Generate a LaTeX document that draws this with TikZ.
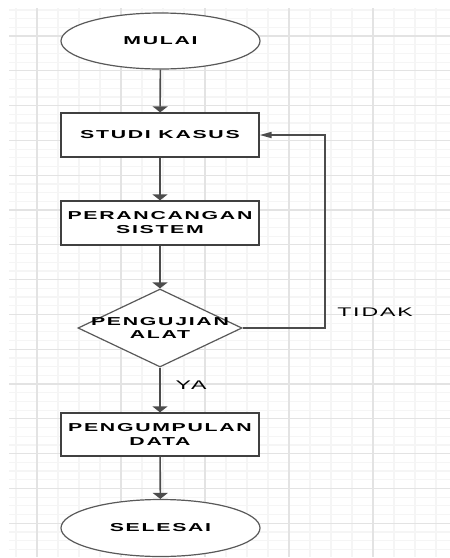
\documentclass[tikz,border=0pt]{standalone}
\usepackage{fontspec}
\setmainfont{Liberation Sans}
\usepackage{graphicx}
\usepackage{tikz}
\usetikzlibrary{arrows.meta,shapes.geometric}
\definecolor{gridmajor}{rgb}{0.89,0.89,0.89}
\definecolor{gridminor}{rgb}{0.96,0.96,0.96}
\definecolor{garis}{rgb}{0.30,0.30,0.30}
\newcommand{\lebar}[1]{\scalebox{1.85}[1]{\addfontfeature{LetterSpace=8}#1}}

\begin{document}
\begin{tikzpicture}[
  x=1pt,y=-1pt,
  minorline/.style={draw=gridminor,line width=1.2pt},
  majorline/.style={draw=gridmajor,line width=1.2pt},
  terminal/.style={ellipse,draw=black!65,line width=1.2pt,fill=white,
                   minimum width=199pt,minimum height=56pt,inner sep=0pt,
                   font=\fontsize{11.5}{14}\selectfont\bfseries},
  proses/.style={rectangle,draw=black!75,line width=1.3pt,fill=white,
                 align=center,minimum width=198pt,minimum height=44pt,inner sep=0pt,
                 font=\fontsize{11.5}{14}\selectfont\bfseries},
  keputusan/.style={diamond,draw=black!65,line width=1.2pt,fill=white,
                    minimum width=164pt,minimum height=78pt,inner sep=0pt},
  arr/.style={-{Triangle[width=15pt,length=6pt]},draw=garis,line width=1.6pt},
  arrh/.style={-{Triangle[width=6pt,length=12pt]},draw=garis,line width=1.6pt},
  ket/.style={font=\fontsize{12.5}{14}\selectfont}
]
  \useasboundingbox (0,0) rectangle (450,558);
  \fill[white] (0,0) rectangle (450,558);

  % Grid background
  \foreach \x in {16,37,...,450}
    \draw[minorline] (\x,8) -- (\x,557);
  \foreach \y in {9.9,18.6,...,557}
    \draw[minorline] (9,\y) -- (450,\y);
  \foreach \x in {37,121,...,450}
    \draw[majorline] (\x,8) -- (\x,557);
  \foreach \y in {36,70.8,...,557}
    \draw[majorline] (9,\y) -- (450,\y);

  % Start
  \node[terminal] (mulai) at (160.5,41) {\lebar{MULAI}};

  % Studi kasus
  \node[proses] (studi) at (160,135) {\lebar{STUDI KASUS}};

  % Perancangan sistem
  \node[proses] (rancang) at (160,223)
    {\lebar{PERANCANGAN}\\\lebar{SISTEM}};

  % Pengujian alat
  \node[keputusan] (uji) at (160,328) {};
  \node[align=center,font=\fontsize{11.5}{13}\selectfont\bfseries] (ujiteks) at (uji.center)
    {\lebar{PENGUJIAN}\\\lebar{ALAT}};

  % Pengumpulan data
  \node[proses,minimum height=43pt] (kumpul) at (160,434.5)
    {\lebar{PENGUMPULAN}\\\lebar{DATA}};

  % End
  \node[terminal,minimum height=57pt] (selesai) at (160.5,528) {\lebar{SELESAI}};

  % Arrows
  \draw[arr] (mulai) -- (studi);
  \draw[arr] (studi) -- (rancang);
  \draw[arr] (rancang) -- (uji);
  \draw[arr] (uji) -- (kumpul);
  \draw[arr] (kumpul) -- (selesai);

  % Loop back
  \coordinate (balik) at (325,328);
  \draw[arrh] (uji.east) -- (balik) |- (studi.east);

  % Labels
  \node[ket] (tidak) at (375,312) {\lebar{TIDAK}};
  \node[ket] (ya) at (191,385) {\lebar{YA}};
\end{tikzpicture}
\end{document}
